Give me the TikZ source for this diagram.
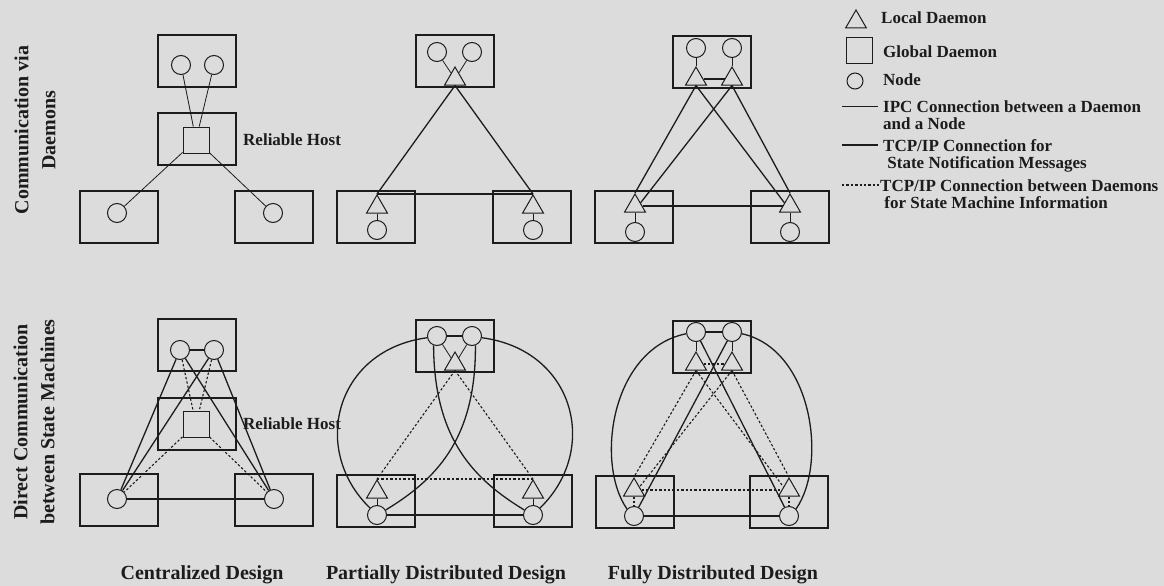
\documentclass[tikz,border=0pt]{standalone}
\usepackage{fontspec}
\setmainfont{Liberation Serif}
\usetikzlibrary{shapes.geometric}
\definecolor{paper}{HTML}{DCDCDC}
\definecolor{ink}{HTML}{1C1C1C}
\tikzset{
  hostbox/.style={draw=ink, line width=1.3pt, minimum width=78pt, minimum height=52pt, inner sep=0pt},
  nodec/.style={circle, draw=ink, line width=1pt, minimum size=19pt, inner sep=0pt},
  ldaemon/.style={regular polygon, regular polygon sides=3, draw=ink, line width=1pt,
    minimum size=24pt, inner sep=0pt},
  gdaemon/.style={draw=ink, line width=1pt, minimum size=26pt, inner sep=0pt},
  ipc/.style={draw=ink, line width=0.8pt},
  tcp/.style={draw=ink, line width=1.3pt},
  dmn/.style={draw=ink, line width=1.1pt, dash pattern=on 2.4pt off 2pt},
  lbl/.style={font=\fontsize{17}{17.5}\selectfont\bfseries, text=ink, inner sep=0pt},
  ttl/.style={font=\fontsize{20}{27}\selectfont\bfseries, text=ink, inner sep=0pt, align=center}
}
\begin{document}
\begin{tikzpicture}[x=1pt, y=-1pt]
\fill[paper] (0,0) rectangle (1164,586);
\useasboundingbox (0,0) rectangle (1164,586);
\node[ttl, rotate=90] (rowA) at (35,130) {Communication via\\Daemons};
\node[ttl, rotate=90] (rowB) at (34,422) {Direct Communication\\between State Machines};
\node[ttl] (colA) at (202,575) {Centralized Design};
\node[ttl] (colB) at (446,575) {Partially Distributed Design};
\node[ttl] (colC) at (713,575) {Fully Distributed Design};
% centralized, via daemons
\node[hostbox] (hA1) at (197,61) {};
\node[hostbox] (hA2) at (197,139) {};
\node[hostbox] (hA3) at (119,217) {};
\node[hostbox] (hA4) at (274,217) {};
\node[nodec] (nA1) at (181,65) {};
\node[nodec] (nA2) at (214,65) {};
\node[gdaemon] (gA) at (196,140) {};
\node[nodec] (nA3) at (117,213) {};
\node[nodec] (nA4) at (273,213) {};
\node[lbl, anchor=west] (relA) at (243,140) {Reliable Host};
\draw[ipc] (nA1)--(gA); \draw[ipc] (nA2)--(gA);
\draw[ipc] (gA)--(nA3); \draw[ipc] (gA)--(nA4);
% partially distributed, via daemons
\node[hostbox] (hB1) at (455,61) {};
\node[hostbox] (hB2) at (376,217) {};
\node[hostbox] (hB3) at (532,217) {};
\node[nodec] (nB1) at (437,52) {};
\node[nodec] (nB2) at (472,52) {};
\node[ldaemon] (tB1) at (455,79) {};
\node[ldaemon] (tB2) at (377,207) {};
\node[ldaemon] (tB3) at (533,207) {};
\node[nodec] (nB3) at (377,230) {};
\node[nodec] (nB4) at (533,230) {};
\draw[ipc] (nB1)--(tB1); \draw[ipc] (nB2)--(tB1);
\draw[ipc] (tB2)--(nB3); \draw[ipc] (tB3)--(nB4);
\draw[tcp] (tB1.south)--(tB2.north); \draw[tcp] (tB1.south)--(tB3.north);
\draw[tcp] (tB2.north)--(tB3.north);
% fully distributed, via daemons
\node[hostbox] (hC1) at (712,62) {};
\node[hostbox] (hC2) at (634,217) {};
\node[hostbox] (hC3) at (790,217) {};
\node[nodec] (nC1) at (696,48) {};
\node[nodec] (nC2) at (732,48) {};
\node[ldaemon] (tC1) at (696,79) {};
\node[ldaemon] (tC2) at (732,79) {};
\node[ldaemon] (tC3) at (635,206) {};
\node[ldaemon] (tC4) at (790,206) {};
\node[nodec] (nC3) at (635,232) {};
\node[nodec] (nC4) at (790,232) {};
\draw[ipc] (nC1)--(tC1); \draw[ipc] (nC2)--(tC2);
\draw[ipc] (tC3)--(nC3); \draw[ipc] (tC4)--(nC4);
\draw[tcp] (tC1)--(tC2); \draw[tcp] (tC3)--(tC4);
\draw[tcp] (tC1.south)--(tC3.north); \draw[tcp] (tC1.south)--(tC4.side 1);
\draw[tcp] (tC2.south)--(tC3.side 3); \draw[tcp] (tC2.south)--(tC4.north);
% centralized, direct
\node[hostbox] (hD1) at (197,345) {};
\node[hostbox] (hD2) at (197,424) {};
\node[hostbox] (hD3) at (119,500) {};
\node[hostbox] (hD4) at (274,500) {};
\node[nodec] (nD1) at (180,350) {};
\node[nodec] (nD2) at (214,350) {};
\node[gdaemon] (gD) at (196,424) {};
\node[nodec] (nD3) at (117,499) {};
\node[nodec] (nD4) at (274,499) {};
\node[lbl, anchor=west] (relD) at (243,424) {Reliable Host};
\draw[tcp] (nD1)--(nD2); \draw[tcp] (nD3)--(nD4);
\draw[tcp] (nD1)--(nD3); \draw[tcp] (nD1)--(nD4);
\draw[tcp] (nD2)--(nD3); \draw[tcp] (nD2)--(nD4);
\draw[dmn] (nD1)--(gD); \draw[dmn] (nD2)--(gD);
\draw[dmn] (gD)--(nD3); \draw[dmn] (gD)--(nD4);
% partially distributed, direct
\node[hostbox] (hE1) at (455,346) {};
\node[hostbox] (hE2) at (376,501) {};
\node[hostbox] (hE3) at (533,501) {};
\node[nodec] (nE1) at (437,336) {};
\node[nodec] (nE2) at (472,336) {};
\node[ldaemon] (tE1) at (455,364) {};
\node[ldaemon] (tE2) at (377,492) {};
\node[ldaemon] (tE3) at (533,492) {};
\node[nodec] (nE3) at (377,515) {};
\node[nodec] (nE4) at (533,515) {};
\draw[ipc] (nE1)--(tE1); \draw[ipc] (nE2)--(tE1);
\draw[ipc] (tE2)--(nE3); \draw[ipc] (tE3)--(nE4);
\draw[tcp] (nE1)--(nE2); \draw[tcp] (nE3)--(nE4);
\draw[dmn] (tE1.south)--(tE2.north); \draw[dmn] (tE1.south)--(tE3.north);
\draw[dmn] (tE2.north)--(tE3.north);
\draw[tcp] (nE1.190) .. controls (335,350) and (310,450) .. (nE3.135);
\draw[tcp] (nE2.350) .. controls (575,350) and (600,450) .. (nE4.45);
\draw[tcp] (nE1.250) .. controls (434,440) and (475,480) .. (nE4.150);
\draw[tcp] (nE2.290) .. controls (476,440) and (435,480) .. (nE3.30);
% fully distributed, direct
\node[hostbox] (hF1) at (712,347) {};
\node[hostbox] (hF2) at (635,502) {};
\node[hostbox] (hF3) at (789,502) {};
\node[nodec] (nF1) at (696,332) {};
\node[nodec] (nF2) at (732,332) {};
\node[ldaemon] (tF1) at (696,364) {};
\node[ldaemon] (tF2) at (732,364) {};
\node[ldaemon] (tF3) at (634,490) {};
\node[ldaemon] (tF4) at (789,490) {};
\node[nodec] (nF3) at (634,516) {};
\node[nodec] (nF4) at (789,516) {};
\draw[ipc] (nF1)--(tF1); \draw[ipc] (nF2)--(tF2);
\draw[dmn] (tF3)--(nF3); \draw[dmn] (tF4)--(nF4);
\draw[tcp] (nF1)--(nF2); \draw[tcp] (nF3)--(nF4);
\draw[tcp] (nF1)--(nF4); \draw[tcp] (nF2)--(nF3);
\draw[dmn] (tF1)--(tF2); \draw[dmn] (tF3)--(tF4);
\draw[dmn] (tF1.south)--(tF3.north); \draw[dmn] (tF1.south)--(tF4.side 1);
\draw[dmn] (tF2.south)--(tF3.side 3); \draw[dmn] (tF2.south)--(tF4.north);
\draw[tcp] (nF1.190) .. controls (611,349) and (595,463) .. (nF3.135);
\draw[tcp] (nF2.350) .. controls (812,349) and (828,463) .. (nF4.45);
% legend
\node[ldaemon] (kLD) at (856,22) {};
\node[lbl, anchor=west] (tLD) at (881,18) {Local Daemon};
\node[gdaemon] (kGD) at (859.5,51) {};
\node[lbl, anchor=west] (tGD) at (883,52) {Global Daemon};
\node[nodec, minimum size=16pt] (kN) at (855,81) {};
\node[lbl, anchor=west] (tN) at (883,80) {Node};
\coordinate (kI1) at (842,106); \coordinate (kI2) at (878,106);
\draw[ipc] (kI1)--(kI2);
\node[lbl, anchor=west, align=left] (tI) at (883,115) {IPC Connection between a Daemon\\and a Node};
\coordinate (kT1) at (842,145); \coordinate (kT2) at (878,145);
\draw[tcp] (kT1)--(kT2);
\node[lbl, anchor=west, align=left] (tT) at (883,156) {TCP/IP Connection for\\\ State Notification Messages};
\coordinate (kD1) at (842,185); \coordinate (kD2) at (879,185);
\draw[dmn] (kD1)--(kD2);
\node[lbl, anchor=west, align=left] (tD) at (880,194) {TCP/IP Connection between Daemons\\\ for State Machine Information};
\end{tikzpicture}
\end{document}
